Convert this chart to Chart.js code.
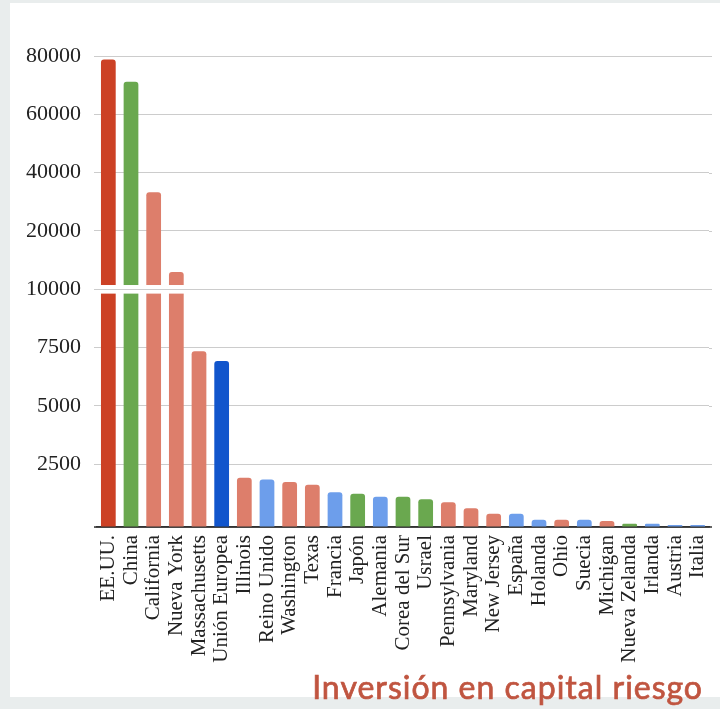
<!DOCTYPE html>
<html lang="es">
<head>
<meta charset="utf-8">
<title>Inversión en capital riesgo</title>
<script src="https://cdn.jsdelivr.net/npm/chart.js@4.4.1/dist/chart.umd.min.js"></script>
<style>
  html, body { margin: 0; padding: 0; }
  body { width: 720px; height: 709px; background: #e9eded; position: relative; overflow: hidden; }
  #panel { position: absolute; left: 10px; top: 3px; width: 710px; height: 694px; background: #fff; }
  #lienzo { position: absolute; left: 0; top: 0; width: 720px; height: 709px; }
  #titulo {
    position: absolute; right: 17px; top: 671px;
    font-family: Lato, "Noto Sans", sans-serif; font-size: 32px; font-weight: 400; line-height: 32px;
    letter-spacing: 1px; -webkit-text-stroke: 0.7px #c05540;
    color: #c05540; white-space: nowrap;
  }
</style>
</head>
<body>
<div id="panel"></div>
<canvas id="lienzo" width="720" height="709"></canvas>
<div id="titulo">Inversión en capital riesgo</div>

<script>
// Datos (millones de dólares)
const categorias = ['EE.UU.', 'China', 'California', 'Nueva York', 'Massachusetts', 'Unión Europea',
  'Illinois', 'Reino Unido', 'Washington', 'Texas', 'Francia', 'Japón', 'Alemania', 'Corea del Sur',
  'Usrael', 'Pennsylvania', 'Maryland', 'New Jersey', 'España', 'Holanda', 'Ohio', 'Suecia',
  'Michigan', 'Nueva Zelanda', 'Irlanda', 'Austria', 'Italia'];
const valores = [78800, 71200, 33300, 12950, 7350, 6930,
  1960, 1890, 1790, 1680, 1390, 1330, 1210, 1210,
  1110, 990, 750, 530, 530, 290, 290, 290,
  240, 130, 130, 80, 80];
const grupos = ['pais', 'asia', 'estado', 'estado', 'estado', 'ue',
  'estado', 'europa', 'estado', 'estado', 'europa', 'asia', 'europa', 'asia',
  'asia', 'estado', 'estado', 'estado', 'europa', 'europa', 'estado', 'europa',
  'estado', 'asia', 'europa', 'europa', 'europa'];

// Marcas del eje vertical (escala partida: cada tramo ocupa el mismo alto)
const marcasY = [0, 2500, 5000, 7500, 10000, 20000, 40000, 60000, 80000];
const corteY = 10000;

const colores = {
  pais: '#cc4125',
  asia: '#6aa84f',
  estado: '#dd7e6b',
  ue: '#1155cc',
  europa: '#6d9eeb'
};

// Peso de cada tramo entre marcas (el primero queda algo más alto)
const pesos = marcasY.slice(1).map((m, i) => (i === 0 ? 1.075 : 1));
const acumulado = [0];
pesos.forEach(p => acumulado.push(acumulado[acumulado.length - 1] + p));
const totalPesos = acumulado[acumulado.length - 1];

function aUnidades(v) {
  if (v <= marcasY[0]) return 0;
  for (let i = 0; i < marcasY.length - 1; i++) {
    if (v <= marcasY[i + 1]) {
      return acumulado[i] + pesos[i] * (v - marcasY[i]) / (marcasY[i + 1] - marcasY[i]);
    }
  }
  return totalPesos;
}

function deUnidades(u) {
  for (let i = 0; i < marcasY.length - 1; i++) {
    if (u <= acumulado[i + 1]) {
      return marcasY[i] + (u - acumulado[i]) / pesos[i] * (marcasY[i + 1] - marcasY[i]);
    }
  }
  return marcasY[marcasY.length - 1];
}

// Escala lineal por tramos
class EscalaPartida extends Chart.LinearScale {
  buildTicks() {
    return marcasY.map(v => ({ value: v }));
  }
  getPixelForValue(value) {
    const u = aUnidades(value);
    return this.bottom - (u / totalPesos) * (this.bottom - this.top);
  }
  getValueForPixel(pixel) {
    const u = (this.bottom - pixel) / (this.bottom - this.top) * totalPesos;
    return deUnidades(u);
  }
}
EscalaPartida.id = 'partida';
EscalaPartida.defaults = Chart.LinearScale.defaults;
Chart.register(EscalaPartida);

// Franja blanca que corta las barras en el salto de escala
const cortePlugin = {
  id: 'corte',
  afterDatasetsDraw(chart) {
    const { ctx, chartArea, scales } = chart;
    const y = scales.y.getPixelForValue(corteY);
    ctx.save();
    ctx.fillStyle = '#ffffff';
    ctx.fillRect(chartArea.left, y - 4.3, chartArea.right - chartArea.left, 8.6);
    ctx.strokeStyle = '#cccccc';
    ctx.lineWidth = 1;
    ctx.beginPath();
    ctx.moveTo(chartArea.left - 3, Math.round(y) + 0.5);
    ctx.lineTo(chartArea.right + 3, Math.round(y) + 0.5);
    ctx.stroke();
    ctx.restore();
  }
};

// Prolonga un poco las líneas de rejilla y el eje hacia la derecha
const bordesPlugin = {
  id: 'bordes',
  beforeDatasetsDraw(chart) {
    const { ctx, chartArea, scales } = chart;
    ctx.save();
    ctx.strokeStyle = '#cccccc';
    ctx.lineWidth = 1;
    scales.y.ticks.forEach(t => {
      if (t.value === 0) return;
      const y = Math.round(scales.y.getPixelForValue(t.value)) + 0.5;
      ctx.beginPath();
      ctx.moveTo(chartArea.right, y);
      ctx.lineTo(chartArea.right + 3, y);
      ctx.stroke();
    });
    ctx.strokeStyle = '#333333';
    ctx.lineWidth = 1.5;
    ctx.beginPath();
    ctx.moveTo(chartArea.left - 3, chartArea.bottom);
    ctx.lineTo(chartArea.right + 3, chartArea.bottom);
    ctx.stroke();
    ctx.restore();
  }
};

const fuenteSerif = "'Liberation Serif', 'DejaVu Serif', serif";

new Chart(document.getElementById('lienzo'), {
  type: 'bar',
  data: {
    labels: categorias,
    datasets: [{
      data: valores,
      backgroundColor: grupos.map(g => colores[g]),
      borderRadius: { topLeft: 3, topRight: 3 },
      borderSkipped: 'start',
      barPercentage: 0.65,
      categoryPercentage: 1
    }]
  },
  options: {
    responsive: false,
    animation: false,
    events: [],
    layout: { padding: { left: 0, right: 11, top: 56, bottom: 0 } },
    plugins: {
      legend: { display: false },
      tooltip: { enabled: false }
    },
    scales: {
      x: {
        grid: { display: false, drawTicks: false },
        border: { display: true, color: '#333333', width: 1.5 },
        ticks: {
          color: '#222',
          font: { family: fuenteSerif, size: 21 },
          minRotation: 90,
          maxRotation: 90,
          autoSkip: false,
          padding: 8
        },
        afterFit(scale) {
          scale.height = 182;
          scale.paddingLeft = 0;
          scale.paddingRight = 0;
        }
      },
      y: {
        type: 'partida',
        min: 0,
        max: 80000,
        grid: { color: '#cccccc', lineWidth: 1, tickLength: 3 },
        border: { display: false },
        ticks: {
          color: '#222',
          font: { family: fuenteSerif, size: 22 },
          padding: 13,
          callback: v => (v === 0 ? '' : String(v))
        },
        afterFit(scale) { scale.width = 97; }
      }
    }
  },
  plugins: [bordesPlugin, cortePlugin]
});
</script>
</body>
</html>
